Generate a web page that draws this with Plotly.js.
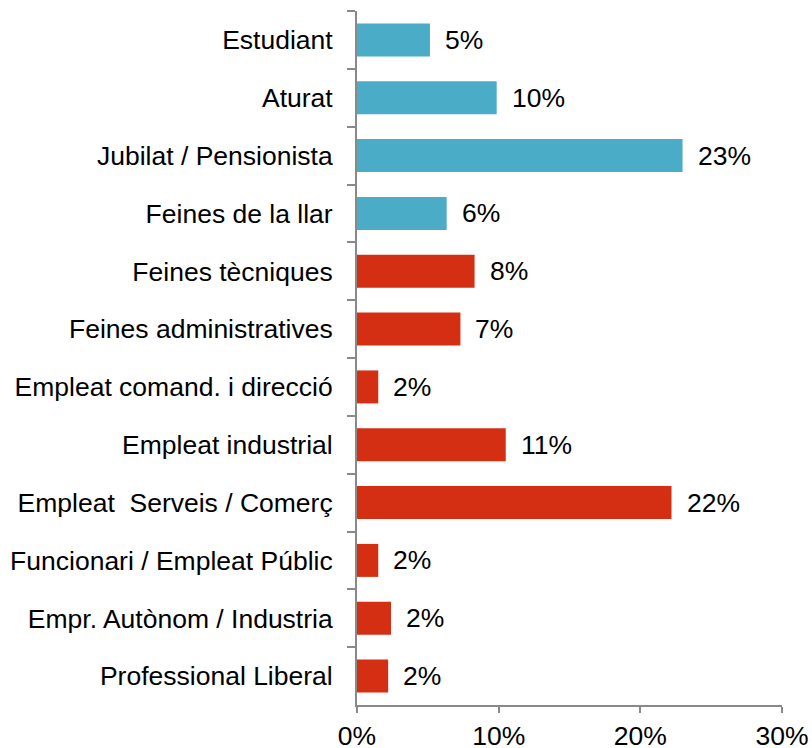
<!DOCTYPE html>
<html>
<head>
<meta charset="utf-8">
<script src="https://cdn.plot.ly/plotly-3.0.1.min.js"></script>
<style>html,body{margin:0;padding:0;background:#fff;}#chart{width:812px;height:748px;}</style>
</head>
<body>
<div id="chart"></div>
<script>
var categories = ["Estudiant", "Aturat", "Jubilat / Pensionista", "Feines de la llar",
  "Feines tècniques", "Feines administratives", "Empleat comand. i direcció",
  "Empleat industrial", "Empleat  Serveis / Comerç", "Funcionari / Empleat Públic",
  "Empr. Autònom / Industria", "Professional Liberal"];
var values = [5.15, 9.86, 22.98, 6.33, 8.3, 7.3, 1.5, 10.5, 22.2, 1.5, 2.4, 2.2];
var groups = ["inactiu", "inactiu", "inactiu", "inactiu", "actiu", "actiu", "actiu",
  "actiu", "actiu", "actiu", "actiu", "actiu"];
var xTicks = [0, 10, 20, 30];
var xTickLabels = ["0%", "10%", "20%", "30%"];

var groupColors = {inactiu: "#4aacc6", actiu: "#d52f13"};
var font = {family: "Liberation Sans, Arial, sans-serif", size: 26.5, color: "#000"};

var trace = {
  type: "bar",
  orientation: "h",
  y: categories,
  x: values,
  marker: {color: groups.map(function (g) { return groupColors[g]; })},
  hoverinfo: "none"
};

var annotations = categories.map(function (c, i) {
  return {
    x: values[i], y: c, xref: "x", yref: "y",
    text: Math.round(values[i]) + "%",
    showarrow: false, xanchor: "left", yanchor: "middle", xshift: 13,
    font: font
  };
});

var layout = {
  width: 812, height: 748,
  margin: {l: 357, r: 30, t: 11, b: 43},
  paper_bgcolor: "#fff", plot_bgcolor: "#fff",
  showlegend: false,
  bargap: 0.43,
  font: font,
  xaxis: {
    range: [0, 30], tickmode: "array", tickvals: xTicks, ticktext: xTickLabels,
    showgrid: false, zeroline: false,
    showline: true, linecolor: "#898989", linewidth: 2,
    ticks: "outside", ticklen: 6, tickcolor: "#898989", tickwidth: 2,
    ticklabelstandoff: 0,
    tickfont: font, fixedrange: true
  },
  yaxis: {
    type: "category", autorange: "reversed",
    tickson: "boundaries",
    showgrid: false, zeroline: false,
    showline: true, linecolor: "#898989", linewidth: 2,
    ticks: "outside", ticklen: 8, tickcolor: "#898989", tickwidth: 2,
    ticklabelstandoff: 17,
    tickfont: font, fixedrange: true
  },
  annotations: annotations
};

Plotly.newPlot("chart", [trace], layout, {displayModeBar: false, staticPlot: true});
</script>
</body>
</html>
